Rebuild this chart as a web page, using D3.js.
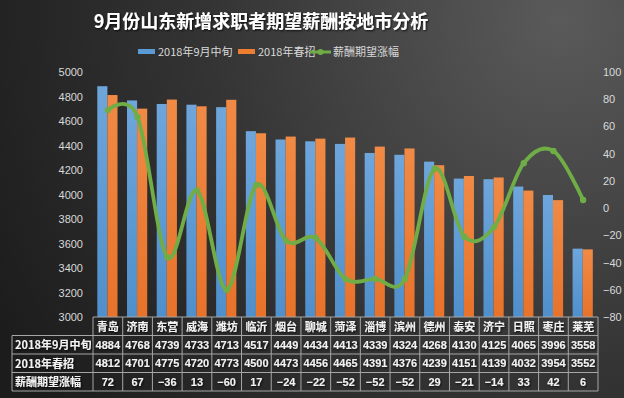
<!DOCTYPE html>
<html lang="zh">
<head>
  <meta charset="UTF-8" />
  <title>9月份山东新增求职者期望薪酬按地市分析</title>
  <script src="https://cdn.jsdelivr.net/npm/d3@7"></script>
  <style>
    body {
      margin: 0;
      background: #222;
      font-family: "Noto Sans CJK SC", "Noto Sans", sans-serif;
    }
    svg { display: block; }
    .axis text { fill: #d9d9d9; font-size: 11px; }
    .cell { fill: #f2f2f2; font-weight: bold; font-size: 11px; }
  </style>
</head>
<body>
  <div id="chart"></div>

  <script>
    const cities = ["青岛", "济南", "东营", "威海", "潍坊", "临沂", "烟台", "聊城", "菏泽",
                    "淄博", "滨州", "德州", "泰安", "济宁", "日照", "枣庄", "莱芜"];
    const sep2018 = [4884, 4768, 4739, 4733, 4713, 4517, 4449, 4434, 4413,
                     4339, 4324, 4268, 4130, 4125, 4065, 3996, 3558];
    const spring2018 = [4812, 4701, 4775, 4720, 4773, 4500, 4473, 4456, 4465,
                        4391, 4376, 4239, 4151, 4139, 4032, 3954, 3552];
    const growth = [72, 67, -36, 13, -60, 17, -24, -22, -52,
                    -52, -52, 29, -21, -14, 33, 42, 6];
    const leftTicks = [3000, 3200, 3400, 3600, 3800, 4000, 4200, 4400, 4600, 4800, 5000];
    const rightTicks = [-80, -60, -40, -20, 0, 20, 40, 60, 80, 100];
    const seriesNames = ["2018年9月中旬", "2018年春招", "薪酬期望涨幅"];

    const width = 624, height = 398;
    const plot = { left: 93, right: 598, top: 72, bottom: 317 };

    const svg = d3.select("#chart").append("svg")
      .attr("width", width)
      .attr("height", height);

    const defs = svg.append("defs");
    const bg = defs.append("radialGradient").attr("id", "bg")
      .attr("gradientUnits", "userSpaceOnUse")
      .attr("cx", 560).attr("cy", 20).attr("r", 640);
    bg.append("stop").attr("offset", "0%").attr("stop-color", "#5a5a5a");
    bg.append("stop").attr("offset", "55%").attr("stop-color", "#343434");
    bg.append("stop").attr("offset", "100%").attr("stop-color", "#1c1c1c");

    function barGrad(id, top, bottom) {
      const g = defs.append("linearGradient").attr("id", id)
        .attr("x1", 0).attr("y1", 0).attr("x2", 0).attr("y2", 1);
      g.append("stop").attr("offset", "0%").attr("stop-color", top);
      g.append("stop").attr("offset", "100%").attr("stop-color", bottom);
    }
    barGrad("gBlue", "#6ea6dc", "#4f8fcb");
    barGrad("gOrange", "#f08a45", "#e8722a");

    const shadow = defs.append("filter").attr("id", "shadow")
      .attr("x", "-10%").attr("y", "-30%").attr("width", "120%").attr("height", "160%");
    shadow.append("feDropShadow").attr("dx", 1).attr("dy", 1).attr("stdDeviation", 1)
      .attr("flood-color", "#000").attr("flood-opacity", 0.8);

    svg.append("rect").attr("width", width).attr("height", height).attr("fill", "url(#bg)");

    // title
    svg.append("text")
      .attr("x", 261).attr("y", 28)
      .attr("text-anchor", "middle")
      .attr("fill", "#ffffff")
      .attr("font-size", "18px")
      .attr("font-weight", "bold")
      .attr("filter", "url(#shadow)")
      .text("9月份山东新增求职者期望薪酬按地市分析");

    // scales
    const x = d3.scaleBand().domain(cities).range([plot.left, plot.right]).padding(0);
    const yL = d3.scaleLinear().domain([3000, 5000]).range([plot.bottom, plot.top]);
    const yR = d3.scaleLinear().domain([-80, 100]).range([plot.bottom, plot.top]);
    const bw = x.bandwidth();

    // axes
    svg.append("g").attr("class", "axis")
      .attr("transform", `translate(${plot.left - 7},0)`)
      .call(d3.axisLeft(yL).tickValues(leftTicks).tickSize(0).tickPadding(3)
        .tickFormat(d3.format("d")))
      .call(g => g.select(".domain").remove());

    svg.append("g").attr("class", "axis")
      .attr("transform", `translate(${plot.right + 2},0)`)
      .call(d3.axisRight(yR).tickValues(rightTicks).tickSize(0).tickPadding(3)
        .tickFormat(d => d < 0 ? "\u2212" + Math.abs(d) : d))
      .call(g => g.select(".domain").remove());

    svg.selectAll(".axis text").attr("font-family", "'Liberation Sans', Arial, sans-serif");

    // bars
    svg.selectAll(".bar-sep")
      .data(cities)
      .enter().append("rect")
      .attr("class", "bar-sep")
      .attr("x", d => x(d) + bw * 0.145)
      .attr("width", bw * 0.34)
      .attr("y", (d, i) => yL(sep2018[i]))
      .attr("height", (d, i) => yL(3000) - yL(sep2018[i]))
      .attr("fill", "url(#gBlue)");

    svg.selectAll(".bar-spring")
      .data(cities)
      .enter().append("rect")
      .attr("class", "bar-spring")
      .attr("x", d => x(d) + bw * 0.485)
      .attr("width", bw * 0.34)
      .attr("y", (d, i) => yL(spring2018[i]))
      .attr("height", (d, i) => yL(3000) - yL(spring2018[i]))
      .attr("fill", "url(#gOrange)");

    // growth line
    const line = d3.line()
      .x((d, i) => x(cities[i]) + bw / 2)
      .y(d => yR(d))
      .curve(d3.curveCardinal.tension(0));

    svg.append("path")
      .datum(growth)
      .attr("d", line)
      .attr("fill", "none")
      .attr("stroke", "#70ad47")
      .attr("stroke-width", 3.8)
      .attr("stroke-linecap", "round");

    svg.selectAll(".dot")
      .data(growth)
      .enter().append("circle")
      .attr("cx", (d, i) => x(cities[i]) + bw / 2)
      .attr("cy", d => yR(d))
      .attr("r", 3.2)
      .attr("fill", "#70ad47");

    // legend
    const legend = svg.append("g").attr("font-size", "11px").attr("fill", "#d9d9d9");
    const legendItems = [
      { x: 138, color: "#5b9bd5", type: "rect" },
      { x: 238, color: "#ed7d31", type: "rect" },
      { x: 310, color: "#70ad47", type: "line" }
    ];
    legendItems.forEach((it, i) => {
      if (it.type === "rect") {
        legend.append("rect").attr("x", it.x).attr("y", 49).attr("width", 17).attr("height", 5)
          .attr("fill", it.color);
        legend.append("text").attr("x", it.x + 20).attr("y", 56).text(seriesNames[i]);
      } else {
        legend.append("line").attr("x1", it.x).attr("x2", it.x + 21).attr("y1", 52).attr("y2", 52)
          .attr("stroke", it.color).attr("stroke-width", 3);
        legend.append("circle").attr("cx", it.x + 10.5).attr("cy", 52).attr("r", 3).attr("fill", it.color);
        legend.append("text").attr("x", it.x + 23).attr("y", 56).text(seriesNames[i]);
      }
    });

    // data table
    const rows = [317, 335.5, 354, 372.5, 391];
    const labelLeft = 12;
    const table = svg.append("g");
    const border = "#a6a6a6";

    table.append("line").attr("x1", plot.left).attr("x2", plot.right)
      .attr("y1", rows[0]).attr("y2", rows[0]).attr("stroke", border);
    rows.slice(1).forEach(r => {
      table.append("line").attr("x1", labelLeft).attr("x2", plot.right)
        .attr("y1", r).attr("y2", r).attr("stroke", border);
    });
    table.append("line").attr("x1", labelLeft).attr("x2", labelLeft)
      .attr("y1", rows[1]).attr("y2", rows[4]).attr("stroke", border);
    cities.concat([null]).forEach((c, i) => {
      const xx = c ? x(c) : plot.right;
      table.append("line").attr("x1", xx).attr("x2", xx)
        .attr("y1", rows[0]).attr("y2", rows[4]).attr("stroke", border);
    });

    const fmt = v => v < 0 ? "\u2212" + Math.abs(v) : String(v);
    const rowData = [sep2018, spring2018, growth];

    cities.forEach((c, i) => {
      const cx = x(c) + bw / 2;
      table.append("text").attr("class", "cell")
        .attr("x", cx).attr("y", (rows[0] + rows[1]) / 2 + 4.5)
        .attr("text-anchor", "middle").attr("font-size", "12px")
        .attr("filter", "url(#shadow)")
        .text(c);
      rowData.forEach((arr, r) => {
        table.append("text").attr("class", "cell")
          .attr("x", cx).attr("y", (rows[r + 1] + rows[r + 2]) / 2 + 4)
          .attr("text-anchor", "middle")
          .attr("font-family", "'Liberation Sans', Arial, sans-serif")
          .attr("filter", "url(#shadow)")
          .text(fmt(arr[i]));
      });
    });

    seriesNames.forEach((name, r) => {
      table.append("text").attr("class", "cell")
        .attr("x", labelLeft + 3).attr("y", (rows[r + 1] + rows[r + 2]) / 2 + 4.5)
        .attr("font-size", "12px")
        .attr("filter", "url(#shadow)")
        .text(name);
    });
  </script>
</body>
</html>
